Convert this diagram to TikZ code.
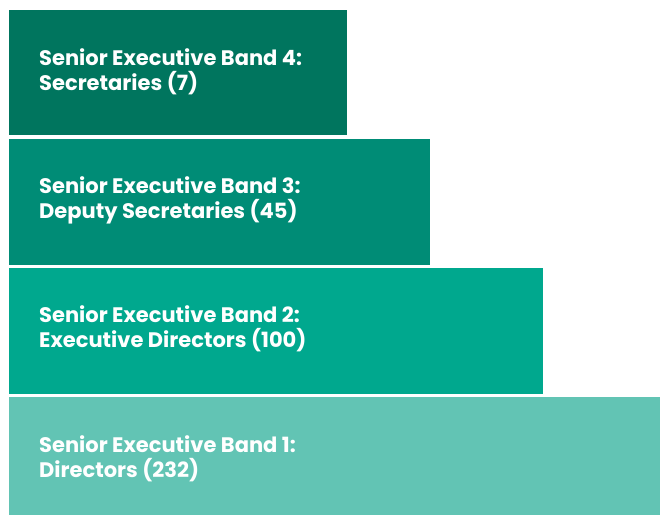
\documentclass[tikz,border=0pt]{standalone}
\usepackage{fontspec}
\setmainfont{Poppins}
\definecolor{bandA}{HTML}{00755E}
\definecolor{bandB}{HTML}{008C76}
\definecolor{bandC}{HTML}{00A88E}
\definecolor{bandD}{HTML}{62C4B4}
\begin{document}
\begin{tikzpicture}[x=1pt,y=-1pt,
  bandlabel/.style={anchor=base west,inner sep=0pt,text=white,align=left,
    font=\fontsize{21}{25}\selectfont\bfseries}]
\useasboundingbox (0,0) rectangle (660,515);
\fill[white] (0,0) rectangle (660,515);
\fill[bandA] (9,10) rectangle (347,135);
\fill[bandB] (9,138.5) rectangle (430,264.5);
\fill[bandC] (9,267.5) rectangle (543,393.5);
\fill[bandD] (9,397) rectangle (660,515);
\node[bandlabel] (l4) at (39,90) {Senior Executive Band 4:\\Secretaries (7)};
\node[bandlabel] (l3) at (39,218) {Senior Executive Band 3:\\Deputy Secretaries (45)};
\node[bandlabel] (l2) at (39,347) {Senior Executive Band 2:\\Executive Directors (100)};
\node[bandlabel] (l1) at (39,477) {Senior Executive Band 1:\\Directors (232)};
\end{tikzpicture}
\end{document}
